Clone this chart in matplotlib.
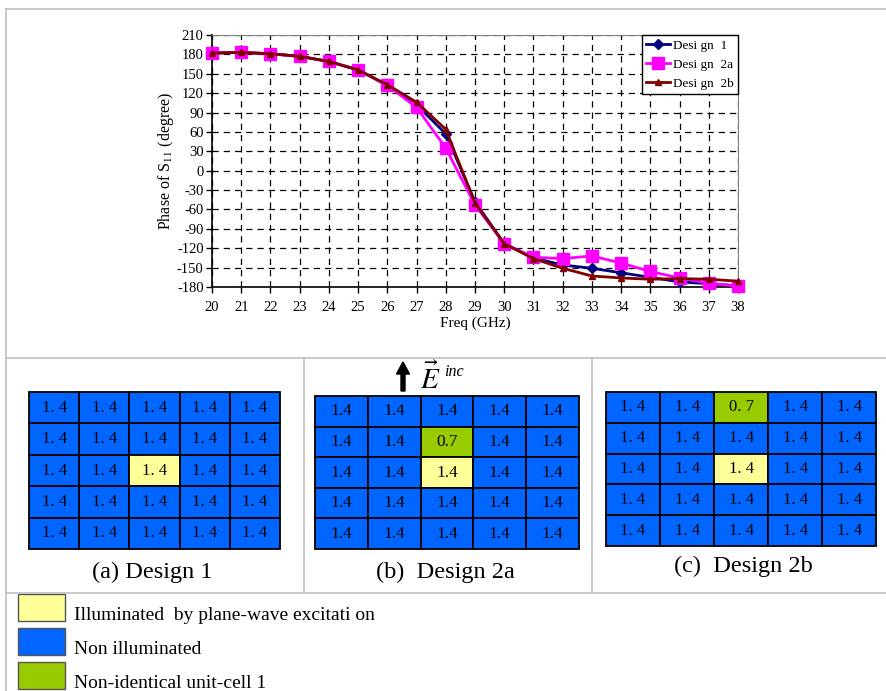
import matplotlib
matplotlib.use('Agg')
import matplotlib.pyplot as plt
from matplotlib.patches import Rectangle

plt.rcParams['font.family'] = ['Liberation Serif', 'DejaVu Serif']
plt.rcParams['mathtext.fontset'] = 'stix'
plt.rcParams['axes.unicode_minus'] = False

# phase of S11
freq = list(range(20, 39))
design1 = [182, 183, 181, 177, 169, 156, 132, 102, 57, -48, -113, -135, -146, -151, -158, -165, -172, -175, -178]
design2a = [182, 183, 181, 177, 169, 156, 132, 98, 35, -53, -113, -134, -136, -132, -143, -156, -166, -174, -179]
design2b = [182, 183, 181, 177, 169, 156, 133, 106, 64, -50, -113, -136, -151, -163, -166, -168, -167, -168, -171]
series_names = ['Desi gn  1', 'Desi gn  2a', 'Desi gn  2b']
y_ticks = list(range(-180, 211, 30))

# unit-cell grids: value and kind (N = non illuminated, I = illuminated, U = non-identical)
values_a = [[1.4] * 5 for _ in range(5)]
kinds_a = ['NNNNN', 'NNNNN', 'NNINN', 'NNNNN', 'NNNNN']
values_b = [[1.4] * 5, [1.4, 1.4, 0.7, 1.4, 1.4], [1.4] * 5, [1.4] * 5, [1.4] * 5]
kinds_b = ['NNNNN', 'NNUNN', 'NNINN', 'NNNNN', 'NNNNN']
values_c = [[1.4, 1.4, 0.7, 1.4, 1.4], [1.4] * 5, [1.4] * 5, [1.4] * 5, [1.4] * 5]
kinds_c = ['NNUNN', 'NNNNN', 'NNINN', 'NNNNN', 'NNNNN']
captions = ['(a) Design 1', '(b)  Design 2a', '(c)  Design 2b']
legend_items = ['Illuminated  by plane-wave excitati on', 'Non illuminated', 'Non-identical unit-cell 1']

kind_colors = {'I': '#ffff99', 'N': '#0066ff', 'U': '#99cc00'}

fig = plt.figure(figsize=(8.86, 6.91), dpi=100)

# overlay in pixel coordinates for panels, grids and legend
ov = fig.add_axes([0, 0, 1, 1])
ov.set_xlim(0, 886)
ov.set_ylim(691, 0)
ov.axis('off')

gray = '#c0c0c0'
ov.plot([6, 886], [9, 9], color=gray, lw=1.2)
ov.plot([6, 6], [9, 691], color=gray, lw=1.2)
ov.plot([6, 886], [357.5, 357.5], color=gray, lw=1.2)
ov.plot([6, 886], [592.5, 592.5], color=gray, lw=1.2)
ov.plot([304.5, 304.5], [357.5, 592.5], color=gray, lw=1.2)
ov.plot([592.5, 592.5], [357.5, 592.5], color=gray, lw=1.2)

# (x0, y0, x1, y1) boxes of each grid
boxes = [(29, 392, 280, 549), (315, 396, 579, 549), (606, 392, 876.5, 546)]
grids = [(values_a, kinds_a, True), (values_b, kinds_b, False), (values_c, kinds_c, True)]
num_sizes = [12, 12.5, 12]
for (x0, y0, x1, y1), (vals, kinds, spaced), fs in zip(boxes, grids, num_sizes):
    cw = (x1 - x0) / 5
    ch = (y1 - y0) / 5
    for r in range(5):
        for c in range(5):
            ov.add_patch(Rectangle((x0 + c * cw, y0 + r * ch), cw, ch,
                                   facecolor=kind_colors[kinds[r][c]], edgecolor='black', lw=1.3))
            txt = f'{vals[r][c]:.1f}'
            if spaced:
                txt = txt.replace('.', '. ')
            ov.text(x0 + (c + 0.5) * cw, y0 + (r + 0.5) * ch, txt, ha='center', va='center', fontsize=fs)

cap_pos = [(152.5, 572.5), (445, 572.5), (743, 566)]
for (cx, cy), cap in zip(cap_pos, captions):
    ov.text(cx, cy, cap, ha='center', va='center', fontsize=17.5)

# incident field arrow
ov.arrow(403, 391, 0, -29, width=4, head_width=13, head_length=12,
         length_includes_head=True, color='black')
ov.text(430, 379, r'$\vec{E}$', ha='center', va='center', fontsize=21)
ov.text(444, 372, 'inc', ha='left', va='center', fontsize=11.5, style='italic')

# colour legend at the bottom
sw_y = [593.5, 627.5, 661.5]
for y, kind, label in zip(sw_y, ['I', 'N', 'U'], legend_items):
    ov.add_patch(Rectangle((18, y), 47, 27, facecolor=kind_colors[kind], edgecolor='#555555', lw=1))
    ov.text(74, y + 22.5, label, ha='left', va='center', fontsize=14)

# phase chart
ax = fig.add_axes([212 / 886, 1 - 287 / 691, (738 - 212) / 886, (287 - 35) / 691])
ax.plot(freq, design1, color='#000080', marker='D', markersize=5, lw=2, label=series_names[0], zorder=3, clip_on=False)
ax.plot(freq, design2a, color='#ff00ff', marker='s', markersize=8, lw=2, label=series_names[1], zorder=4, clip_on=False)
ax.plot(freq, design2b, color='#800000', marker='^', markersize=5, lw=2, label=series_names[2], zorder=5, clip_on=False)
ax.set_xlim(20, 38)
ax.set_ylim(-180, 210)
ax.set_xticks(freq)
ax.set_yticks(y_ticks)
ax.grid(True, color='black', linestyle=(0, (5, 4)), lw=0.9)
ax.tick_params(direction='out', length=4, labelsize=10.5, width=1)
ax.tick_params(axis='y', pad=2)
ax.tick_params(axis='x', pad=6)
for side in ['top', 'right']:
    ax.spines[side].set_color('#808080')
ax.spines['left'].set_linewidth(1.2)
ax.spines['bottom'].set_linewidth(1.2)
ax.set_xlabel('Freq (GHz)', fontsize=11, labelpad=2)
ax.set_ylabel('Phase of S$_{11}$ (degree)', fontsize=11.5, labelpad=1)
leg = ax.legend(loc='upper right', borderaxespad=0, fancybox=False, fontsize=9.5,
                edgecolor='black', framealpha=1, handlelength=1.8, borderpad=0.35,
                labelspacing=0.5, handletextpad=0.2)
leg.get_frame().set_linewidth(1)
leg.set_zorder(10)

fig.savefig('out.png', dpi=100)
